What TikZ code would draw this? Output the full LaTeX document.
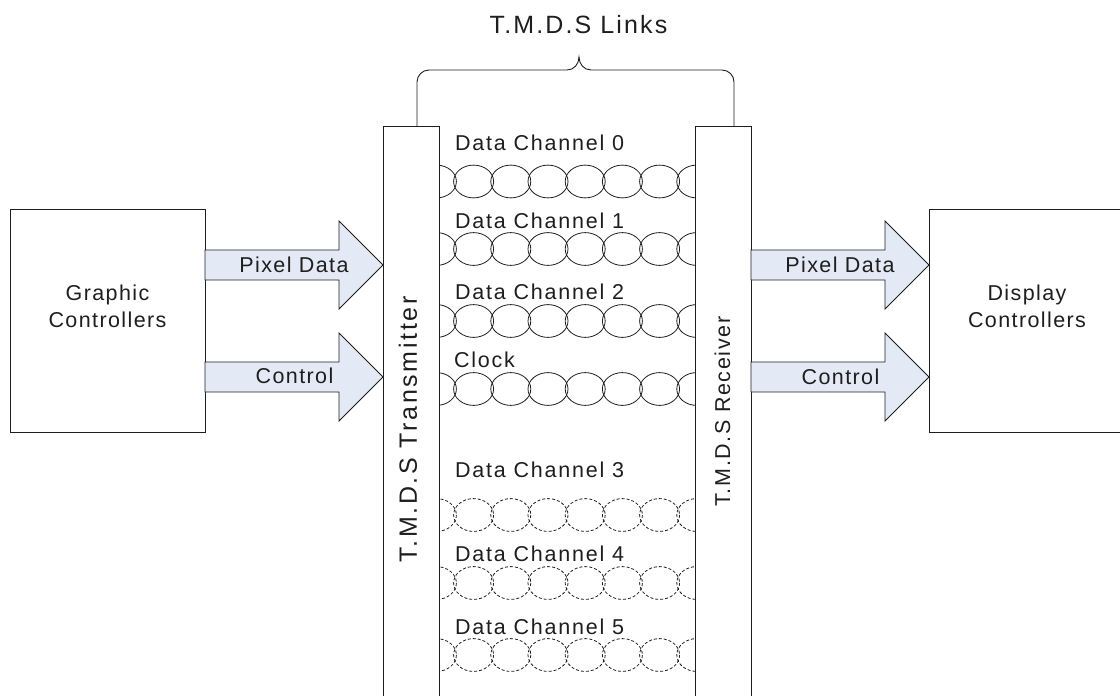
\documentclass[tikz,border=0pt]{standalone}
\usepackage{fontspec}
\setmainfont{Liberation Sans}[LetterSpace=6.5]
\usetikzlibrary{calc}
\definecolor{arrowfill}{RGB}{228,234,245}
\definecolor{ink}{RGB}{30,30,30}
\begin{document}
\begin{tikzpicture}[x=1pt, y=-1pt, line width=0.9pt, draw=ink, text=ink,
  box/.style={draw, inner sep=0, outer sep=0, anchor=north west, minimum height=223},
  bar/.style={draw, fill=white, inner sep=0, outer sep=0, anchor=north west, minimum width=56, minimum height=640},
  txt/.style={font=\fontsize{21.5}{27}\selectfont, inner sep=0, outer sep=0},
  bigtxt/.style={font=\fontsize{25}{30}\selectfont, inner sep=0, outer sep=0},
  chlabel/.style={txt, font=\fontsize{21.5}{27}\selectfont\addfontfeatures{LetterSpace=8.3}, anchor=base west},
  arrlabel/.style={txt, anchor=base},
  block arrow/.style={draw, fill=arrowfill, line join=miter,
    to path={let \p1=(\tikztostart), \p2=(\tikztotarget) in
      (\x1,\y1+15) -- (\x2-44,\y1+15) -- (\x2-44,\y1+44) -- (\x2,\y1)
      -- (\x2-44,\y1-44) -- (\x2-44,\y1-15) -- (\x1,\y1-15) -- cycle}},
  link/.style={draw, line width=0.8pt},
  dlink/.style={draw, line width=0.8pt, dash pattern=on 3pt off 2pt}]
\useasboundingbox (0,0) rectangle (1120,696);

% controllers
\node[box, minimum width=195] (gc) at (10,209) {};
\node[box, minimum width=196] (dc) at (929,209) {};
\node[txt, align=center] (gct) at (107.5,306) {Graphic\\Controllers};
\node[txt, align=center] (dct) at (1027,306) {Display\\Controllers};

% chains between the bars
\coordinate (clipA) at (439,100);
\coordinate (clipB) at (695,696);
\begin{scope}
  \clip (clipA) rectangle (clipB);
  \foreach \yy in {181.5,249,321,389}
    \foreach \i in {0,...,7}
      \path[link] ({436.4+37.2*\i},\yy) ellipse [x radius=20, y radius=16.4];
  \foreach \yy in {515,583,655}
    \foreach \i in {0,...,7}
      \path[dlink] ({436.4+37.2*\i},\yy) ellipse [x radius=20, y radius=16.4];
\end{scope}

% bars
\node[bar] (tx) at (383,126) {};
\node[bar] (rx) at (695,126) {};
\node[bigtxt, font=\fontsize{25}{30}\selectfont\addfontfeatures{LetterSpace=10.5}, rotate=90] (txl) at (408,429.5) {T.M.D.S Transmitter};
\node[txt, font=\fontsize{21.5}{27}\selectfont\addfontfeatures{LetterSpace=7.5}, rotate=90] (rxl) at (722.5,411.5) {T.M.D.S Receiver};

% brace
\coordinate (bl) at ($(tx.north east)+(-22,0)$);
\coordinate (br) at ($(rx.north east)+(-17,0)$);
\draw (bl) -- (417,82) .. controls (417,75.4) and (422.4,70) .. (429,70)
  -- (567,70) .. controls (574,70) and (579,64) .. (579,57)
  .. controls (579,64) and (584,70) .. (591,70)
  -- (722,70) .. controls (728.6,70) and (734,75.4) .. (734,82) -- (br);
\node[bigtxt, font=\fontsize{25}{30}\selectfont\addfontfeatures{LetterSpace=8.5}, anchor=base] (links) at (578.5,33.3) {T.M.D.S Links};

% channel labels
\node[chlabel] (c0) at (455,150) {Data Channel 0};
\node[chlabel] (c1) at (455,228) {Data Channel 1};
\node[chlabel] (c2) at (455,299) {Data Channel 2};
\node[chlabel] (ck) at (454,367) {Clock};
\node[chlabel] (c3) at (455,477) {Data Channel 3};
\node[chlabel] (c4) at (455,561) {Data Channel 4};
\node[chlabel] (c5) at (455,634) {Data Channel 5};

% block arrows
\draw[block arrow] (gc.east |- 0,265) to (tx.west |- 0,265);
\draw[block arrow] (gc.east |- 0,377) to (tx.west |- 0,377);
\draw[block arrow] (rx.east |- 0,265) to (dc.west |- 0,265);
\draw[block arrow] (rx.east |- 0,377) to (dc.west |- 0,377);
\node[arrlabel] (pd1) at (294,272) {Pixel Data};
\node[arrlabel] (ct1) at (294.5,383) {Control};
\node[arrlabel] (pd2) at (840,272) {Pixel Data};
\node[arrlabel] (ct2) at (840.5,384) {Control};
\end{tikzpicture}
\end{document}
